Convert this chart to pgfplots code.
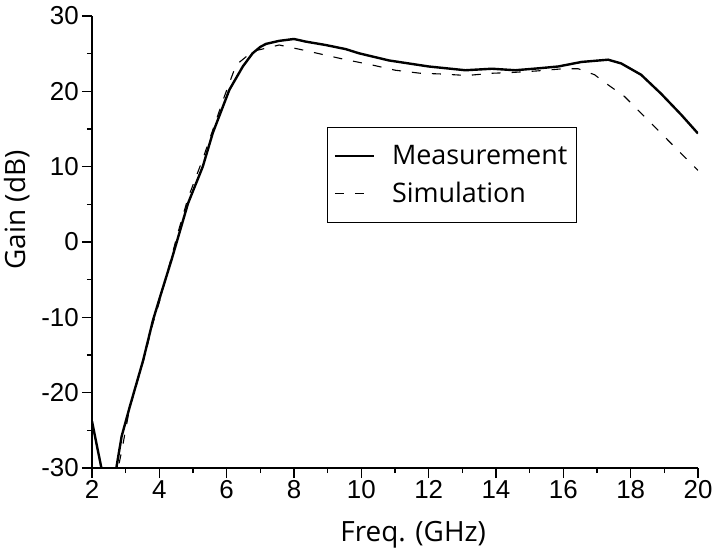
\documentclass[border=0pt]{standalone}
\usepackage{pgfplots}
\pgfplotsset{compat=1.18}
\usepackage{fontspec}
\setmainfont{Open Sans}
\newfontfamily\arial{Liberation Sans}
\begin{document}
\begin{tikzpicture}
\begin{axis}[
  scale only axis,
  width=606bp, height=452bp,
  xmin=2, xmax=20, ymin=-30, ymax=30,
  axis lines*=left,
  axis line style={line width=1.3bp},
  tick align=outside,
  major tick length=10bp, minor tick length=5bp,
  every tick/.style={line width=1.2bp, black},
  xtick={2,4,...,20}, ytick={-30,-20,...,30},
  xticklabels={2,4,6,8,10,12,14,16,18,20},
  yticklabels={-30,-20,-10,0,10,20,30},
  minor x tick num=1, minor y tick num=1,
  tick label style={font=\arial\fontsize{26}{30}\selectfont},
  xticklabel style={inner sep=2bp},
  yticklabel style={inner sep=3bp},
  xlabel={Freq. (GHz)}, ylabel={Gain (dB)},
  label style={font=\fontsize{28}{32}\selectfont},
  xlabel style={at={(axis description cs:0.53,-0.1637)}, anchor=base},
  ylabel style={at={(axis description cs:-0.109,0.571)}, anchor=base, rotate=0},
  legend cell align=left,
  legend style={at={(0.3878,0.7544)}, anchor=north west, draw=black, line width=1.2bp,
    inner xsep=6bp, inner ysep=15bp, font=\fontsize{27}{32}\selectfont,
    nodes={inner sep=3bp}, row sep=10bp,
    /tikz/every odd column/.append style={column sep=14bp}},
  legend image code/.code={\draw[#1] (0bp,0bp) -- (39bp,0bp);},
  clip=true,
]
\addplot[black, line width=2.4bp] coordinates {
(2.0,-23.8) (2.27,-29.8) (2.35,-33) (2.65,-33) (2.73,-29.8) (2.88,-25.8)
(3.12,-21.9) (3.52,-15.7) (3.81,-10.4) (4.0,-7.6) (4.36,-2.4) (4.85,5.1)
(5.29,10.0) (5.59,14.5) (6.08,20.2) (6.48,23.3) (6.77,25.05) (7.0,25.9) (7.17,26.3)
(7.56,26.7) (8.0,26.95) (8.35,26.6) (8.94,26.15) (9.54,25.6) (9.93,25.05)
(10.82,24.1) (12.0,23.3) (13.09,22.8) (13.88,23.0) (14.57,22.8) (15.25,23.05)
(15.85,23.3) (16.54,23.9) (17.33,24.2) (17.72,23.7) (18.31,22.2) (18.9,19.7)
(19.5,16.9) (20.0,14.4)
};
\addlegendentry{Measurement}
\addplot[black, line width=1.1bp, dash pattern=on 9bp off 11bp] coordinates {
(2.72,-32) (2.8,-29.5) (2.88,-27.8) (3.12,-22) (3.52,-15.9) (3.81,-10.8)
(4.0,-8.0) (4.36,-2.0) (4.55,1.2) (4.85,5.8) (5.29,11.0) (5.69,16.2)
(5.93,19.3) (6.28,23.5) (6.77,25.3) (7.56,26.15) (8.25,25.5) (8.94,24.8)
(9.54,24.2) (10.32,23.5) (11.01,22.8) (11.75,22.4) (12.39,22.3) (13.13,22.1)
(13.88,22.4) (14.47,22.5) (15.2,22.7) (16.0,23.0) (16.44,23.0) (16.93,22.2)
(17.13,21.5) (17.82,19.3) (18.51,16.2) (19.2,13.1) (19.89,10.0) (20.0,9.5)
};
\addlegendentry{Simulation}
\end{axis}
\pgfresetboundingbox
\path[use as bounding box] (current axis.south west) ++(-92bp,-91bp) rectangle ++(723bp,559bp);
\end{tikzpicture}
\end{document}
